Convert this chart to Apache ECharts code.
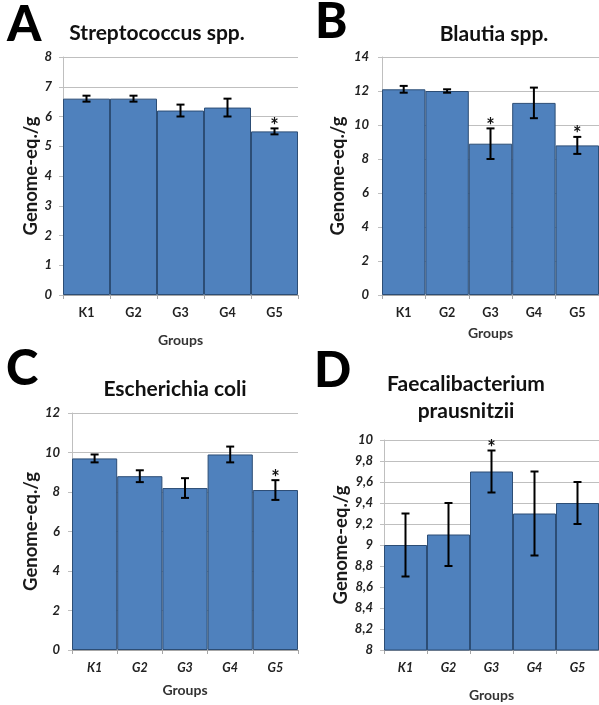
<!DOCTYPE html>
<html>
<head>
<meta charset="utf-8">
<script src="https://cdn.jsdelivr.net/npm/echarts@6/dist/echarts.min.js"></script>
<style>
html,body{margin:0;padding:0;background:#fff;}
#chart{width:599px;height:705px;}
</style>
</head>
<body>
<div id="chart"></div>
<script>
// ---- data ----
const categories = ['K1', 'G2', 'G3', 'G4', 'G5'];
const titleA = 'Streptococcus spp.';
const valuesA = [6.6, 6.6, 6.2, 6.3, 5.5];
const errorsA = [0.1, 0.1, 0.2, 0.3, 0.1];
const starsA = [0, 0, 0, 0, 1];
const titleB = 'Blautia spp.';
const valuesB = [12.1, 12.0, 8.9, 11.3, 8.8];
const errorsB = [0.2, 0.1, 0.9, 0.9, 0.5];
const starsB = [0, 0, 1, 0, 1];
const titleC = 'Escherichia coli';
const valuesC = [9.7, 8.8, 8.2, 9.9, 8.1];
const errorsC = [0.2, 0.3, 0.5, 0.4, 0.5];
const starsC = [0, 0, 0, 0, 1];
const titleD = 'Faecalibacterium\nprausnitzii';
const valuesD = [9.0, 9.1, 9.7, 9.3, 9.4];
const errorsD = [0.3, 0.3, 0.2, 0.4, 0.2];
const starsD = [0, 0, 1, 0, 0];
const yTicksA = {min: 0, max: 8, interval: 1};
const yTicksB = {min: 0, max: 14, interval: 2};
const yTicksC = {min: 0, max: 12, interval: 2};
const yTicksD = {min: 8, max: 10, interval: 0.2};
const yName = 'Genome-eq./g';
const xName = 'Groups';

const FONT = 'Lato, "Open Sans", sans-serif';
const panels = [
  {vals: valuesA, errs: errorsA, stars: starsA, ticks: yTicksA, grid: {left: 63, top: 57, width: 235, height: 238}, yGap: 21, xGap: 38, yMargin: 11, italicX: false, comma: false},
  {vals: valuesB, errs: errorsB, stars: starsB, ticks: yTicksB, grid: {left: 382, top: 57, width: 225, height: 238}, yGap: 34, xGap: 31, yMargin: 13, italicX: false, comma: false},
  {vals: valuesC, errs: errorsC, stars: starsC, ticks: yTicksC, grid: {left: 72, top: 413, width: 226, height: 237}, yGap: 30, xGap: 33, yMargin: 12, italicX: true, comma: false},
  {vals: valuesD, errs: errorsD, stars: starsD, ticks: yTicksD, grid: {left: 384, top: 440, width: 224, height: 210}, yGap: 32, xGap: 38, yMargin: 11, italicX: true, comma: true}
];

const grids = [], xAxes = [], yAxes = [], series = [];
panels.forEach((p, i) => {
  grids.push(Object.assign({containLabel: false}, p.grid));
  xAxes.push({
    type: 'category', gridIndex: i, data: categories,
    name: xName, nameLocation: 'middle', nameGap: p.xGap,
    nameTextStyle: {fontFamily: FONT, fontSize: 14, fontWeight: 'bold', color: '#333'},
    axisLine: {show: true, lineStyle: {color: '#A6A6A6', width: 1}},
    axisTick: {show: true, length: 4, lineStyle: {color: '#A6A6A6'}},
    axisLabel: {fontFamily: FONT, fontSize: 12.5, fontWeight: 'bold', fontStyle: p.italicX ? 'italic' : 'normal', color: '#222', margin: 11},
    splitLine: {show: false}
  });
  yAxes.push({
    type: 'value', gridIndex: i, min: p.ticks.min, max: p.ticks.max, interval: p.ticks.interval,
    name: yName, nameLocation: 'middle', nameGap: p.yGap, nameRotate: 90,
    nameTextStyle: {fontFamily: FONT, fontSize: 18.5, fontWeight: 'bold', color: '#1a1a1a'},
    axisLine: {show: true, lineStyle: {color: '#BFBFBF', width: 1}},
    axisTick: {show: true, length: 4, lineStyle: {color: '#BFBFBF'}},
    axisLabel: {
      fontFamily: FONT, fontSize: 13, fontWeight: 'bold', fontStyle: 'italic', color: '#222', margin: p.yMargin,
      formatter: v => { const r = Math.round(v * 10) / 10; const s = String(r); return p.comma ? s.replace('.', ',') : s; }
    },
    splitLine: {show: true, lineStyle: {color: '#BFBFBF', width: 1}}
  });
  series.push({
    type: 'bar', xAxisIndex: i, yAxisIndex: i, data: p.vals,
    barCategoryGap: '0%',
    itemStyle: {color: '#4F81BD', borderColor: '#2C4D75', borderWidth: 1},
    silent: true, animation: false
  });
  series.push({
    type: 'custom', xAxisIndex: i, yAxisIndex: i,
    data: p.vals.map((v, k) => [k, v - p.errs[k], v + p.errs[k], p.stars[k]]),
    animation: false, silent: true, z: 5,
    renderItem: (params, api) => {
      const x = api.value(0);
      const lo = api.coord([x, api.value(1)]);
      const hi = api.coord([x, api.value(2)]);
      const hw = 4;
      const st = {stroke: '#000', lineWidth: 2};
      const children = [
        {type: 'line', shape: {x1: lo[0], y1: lo[1], x2: hi[0], y2: hi[1]}, style: st},
        {type: 'line', shape: {x1: lo[0] - hw, y1: lo[1], x2: lo[0] + hw, y2: lo[1]}, style: st},
        {type: 'line', shape: {x1: hi[0] - hw, y1: hi[1], x2: hi[0] + hw, y2: hi[1]}, style: st}
      ];
      if (api.value(3)) {
        children.push({type: 'text', style: {text: '*', x: hi[0], y: hi[1] - 2, align: 'center', verticalAlign: 'middle', font: 'bold 20px ' + FONT, fill: '#111'}});
      }
      return {type: 'group', children};
    }
  });
});

const titleStyle = {fontFamily: FONT, fontSize: 21, fontWeight: 'bold', color: '#111'};
const titles = [
  {text: titleA, left: 157, top: 20},
  {text: titleB, left: 494, top: 21},
  {text: titleC, left: 175, top: 376},
  {text: titleD, left: 466, top: 371}
].map(t => ({text: t.text, left: t.left, top: t.top, textAlign: 'center', padding: 0, textStyle: Object.assign({lineHeight: 27}, titleStyle)}));

const letterFont = '900 49px Lato, "Liberation Sans", sans-serif';
const letters = [
  {t: 'A', x: 7, y: 9}, {t: 'B', x: 315, y: 6}, {t: 'C', x: 6, y: 353}, {t: 'D', x: 314, y: 355}
].map(l => ({type: 'text', left: l.x, top: l.y - 8, style: {text: l.t, font: letterFont, fill: '#000'}}));

const chart = echarts.init(document.getElementById('chart'), null, {renderer: 'canvas'});
chart.setOption({
  animation: false,
  backgroundColor: '#fff',
  title: titles,
  grid: grids,
  xAxis: xAxes,
  yAxis: yAxes,
  series: series,
  graphic: letters
});
</script>
</body>
</html>
